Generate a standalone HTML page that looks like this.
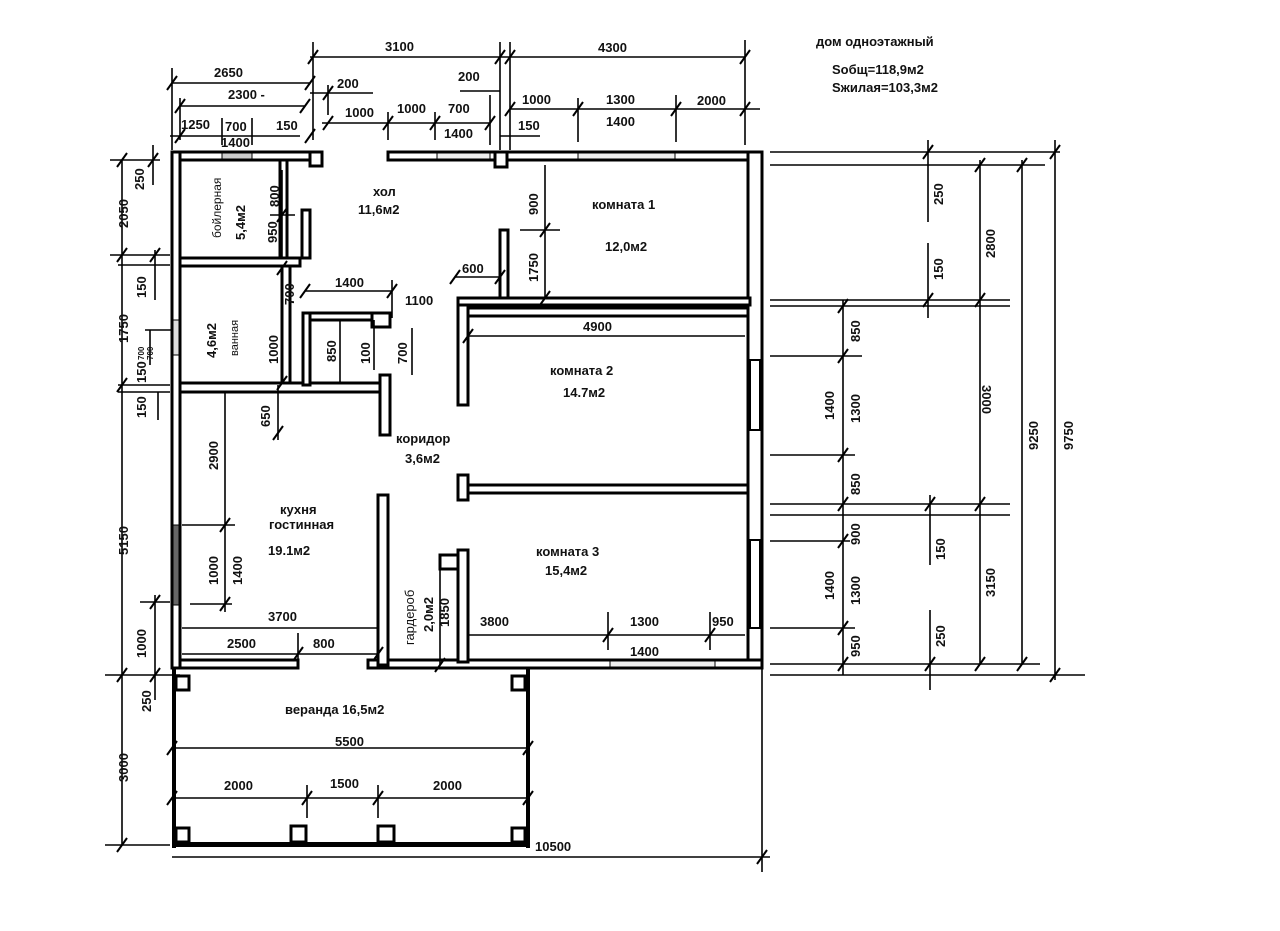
<!DOCTYPE html>
<html><head><meta charset="utf-8"><style>
html,body{margin:0;padding:0;background:#fff;}
svg{display:block}
text{font-family:"Liberation Sans",sans-serif;font-size:13px;font-weight:bold;fill:#111;}
.w{fill:#fff;stroke:#000;stroke-width:3}
.d line,.d polyline{stroke:#000;stroke-width:1.6}
.t{stroke:#000;stroke-width:2}
</style></head><body>
<svg width="1280" height="931" viewBox="0 0 1280 931" xmlns="http://www.w3.org/2000/svg">
<g>
<rect class="w" x="172" y="152" width="150" height="8"/>
<rect class="w" x="310" y="152" width="12" height="14"/>
<rect class="w" x="388" y="152" width="374" height="8"/>
<rect class="w" x="495" y="152" width="12" height="15"/>
<rect class="w" x="172" y="152" width="8" height="516"/>
<rect class="w" x="748" y="152" width="14" height="516"/>
<rect class="w" x="180" y="660" width="118" height="8"/>
<rect class="w" x="368" y="660" width="394" height="8"/>
<rect x="222" y="153" width="30" height="6" fill="#ccc" stroke="#000"/>
<rect x="437" y="153" width="53" height="6" fill="#eee" stroke="#000"/>
<rect x="578" y="153" width="97" height="6" fill="#eee" stroke="#000"/>
<rect x="173" y="320" width="6" height="35" fill="#ddd" stroke="#000"/>
<rect x="173" y="525" width="6" height="80" fill="#666" stroke="#000"/>
<rect x="750" y="360" width="10" height="70" fill="#fff" stroke="#000" stroke-width="2"/>
<rect x="750" y="540" width="10" height="88" fill="#fff" stroke="#000" stroke-width="2"/>
<rect x="610" y="661" width="105" height="6" fill="#eee" stroke="#000"/>
<rect class="w" x="280" y="160" width="7" height="98"/>
<rect class="w" x="180" y="258" width="120" height="8"/>
<rect class="w" x="302" y="210" width="8" height="48"/>
<rect class="w" x="282" y="266" width="8" height="118"/>
<rect class="w" x="180" y="383" width="210" height="9"/>
<rect class="w" x="303" y="313" width="85" height="7"/>
<rect class="w" x="303" y="313" width="7" height="72"/>
<rect class="w" x="372" y="313" width="18" height="14"/>
<rect class="w" x="380" y="375" width="10" height="60"/>
<rect class="w" x="500" y="230" width="8" height="70"/>
<rect class="w" x="458" y="298" width="292" height="7"/>
<rect class="w" x="458" y="305" width="10" height="100"/>
<rect class="w" x="468" y="308" width="280" height="8"/>
<rect class="w" x="458" y="475" width="10" height="25"/>
<rect class="w" x="468" y="485" width="280" height="8"/>
<rect class="w" x="378" y="495" width="10" height="170"/>
<rect class="w" x="440" y="555" width="18" height="14"/>
<rect class="w" x="458" y="550" width="10" height="112"/>
<rect x="172" y="668" width="4" height="180" fill="#000"/>
<rect x="172" y="842" width="358" height="5" fill="#000"/>
<rect x="526" y="668" width="4" height="180" fill="#000"/>
<rect class="w" x="176" y="676" width="13" height="14"/>
<rect class="w" x="512" y="676" width="13" height="14"/>
<rect class="w" x="176" y="828" width="13" height="14"/>
<rect class="w" x="291" y="826" width="15" height="16"/>
<rect class="w" x="378" y="826" width="16" height="16"/>
<rect class="w" x="512" y="828" width="13" height="14"/>
</g>
<g class="d">
<line x1="310" y1="57" x2="745" y2="57"/>
<line x1="313" y1="42" x2="313" y2="140"/><line x1="500" y1="42" x2="500" y2="150"/><line x1="510" y1="42" x2="510" y2="150"/><line x1="745" y1="40" x2="745" y2="145"/>
<line x1="172" y1="83" x2="310" y2="83"/><line x1="172" y1="68" x2="172" y2="150"/>
<line x1="180" y1="106" x2="305" y2="106"/><line x1="180" y1="98" x2="180" y2="140"/>
<line x1="310" y1="93" x2="373" y2="93"/><line x1="328" y1="85" x2="328" y2="115"/>
<line x1="170" y1="136" x2="300" y2="136"/><line x1="222" y1="118" x2="222" y2="145"/><line x1="252" y1="118" x2="252" y2="145"/>
<line x1="322" y1="123" x2="490" y2="123"/><line x1="388" y1="112" x2="388" y2="140"/><line x1="435" y1="112" x2="435" y2="140"/><line x1="490" y1="95" x2="490" y2="145"/>
<line x1="460" y1="91" x2="500" y2="91"/>
<line x1="510" y1="109" x2="760" y2="109"/><line x1="578" y1="98" x2="578" y2="142"/><line x1="676" y1="95" x2="676" y2="142"/>
<line x1="500" y1="136" x2="540" y2="136"/>
<line x1="122" y1="160" x2="122" y2="845"/>
<line x1="153" y1="145" x2="153" y2="185"/>
<line x1="110" y1="160" x2="160" y2="160"/><line x1="110" y1="255" x2="170" y2="255"/><line x1="118" y1="265" x2="170" y2="265"/>
<line x1="155" y1="250" x2="155" y2="300"/>
<line x1="150" y1="330" x2="150" y2="365"/><line x1="145" y1="330" x2="172" y2="330"/>
<line x1="118" y1="385" x2="170" y2="385"/><line x1="118" y1="392" x2="170" y2="392"/>
<line x1="158" y1="392" x2="158" y2="420"/>
<line x1="155" y1="595" x2="155" y2="700"/><line x1="140" y1="602" x2="170" y2="602"/>
<line x1="105" y1="675" x2="180" y2="675"/><line x1="105" y1="845" x2="170" y2="845"/>
<line x1="770" y1="152" x2="1060" y2="152"/><line x1="770" y1="165" x2="1045" y2="165"/>
<line x1="770" y1="300" x2="1010" y2="300"/><line x1="770" y1="306" x2="1010" y2="306"/>
<line x1="770" y1="356" x2="862" y2="356"/><line x1="770" y1="455" x2="855" y2="455"/>
<line x1="770" y1="504" x2="1010" y2="504"/><line x1="770" y1="515" x2="1010" y2="515"/>
<line x1="770" y1="541" x2="850" y2="541"/><line x1="770" y1="628" x2="855" y2="628"/>
<line x1="770" y1="664" x2="1040" y2="664"/><line x1="770" y1="675" x2="1085" y2="675"/>
<line x1="843" y1="300" x2="843" y2="675"/>
<line x1="928" y1="140" x2="928" y2="222"/><line x1="928" y1="243" x2="928" y2="318"/>
<line x1="930" y1="495" x2="930" y2="565"/><line x1="930" y1="610" x2="930" y2="690"/>
<line x1="980" y1="160" x2="980" y2="665"/>
<line x1="1022" y1="160" x2="1022" y2="665"/>
<line x1="1055" y1="140" x2="1055" y2="680"/>
<line x1="172" y1="857" x2="770" y2="857"/><line x1="762" y1="668" x2="762" y2="872"/>
<line x1="172" y1="748" x2="528" y2="748"/>
<line x1="172" y1="798" x2="528" y2="798"/><line x1="307" y1="785" x2="307" y2="818"/><line x1="378" y1="785" x2="378" y2="818"/>
<line x1="282" y1="170" x2="282" y2="258"/><line x1="270" y1="215" x2="295" y2="215"/>
<line x1="305" y1="291" x2="392" y2="291"/><line x1="392" y1="280" x2="392" y2="318"/>
<line x1="455" y1="277" x2="500" y2="277"/>
<line x1="282" y1="268" x2="282" y2="383"/>
<line x1="340" y1="320" x2="340" y2="383"/><line x1="374" y1="320" x2="374" y2="370"/><line x1="412" y1="328" x2="412" y2="375"/>
<line x1="278" y1="385" x2="278" y2="440"/>
<line x1="225" y1="392" x2="225" y2="612"/><line x1="182" y1="525" x2="235" y2="525"/><line x1="190" y1="604" x2="232" y2="604"/>
<line x1="182" y1="628" x2="378" y2="628"/><line x1="182" y1="654" x2="378" y2="654"/><line x1="298" y1="633" x2="298" y2="660"/>
<line x1="440" y1="568" x2="440" y2="665"/>
<line x1="468" y1="336" x2="745" y2="336"/>
<line x1="545" y1="165" x2="545" y2="298"/><line x1="520" y1="230" x2="560" y2="230"/>
<line x1="468" y1="635" x2="745" y2="635"/><line x1="608" y1="612" x2="608" y2="650"/><line x1="710" y1="612" x2="710" y2="650"/>
</g>
<g class="t">
<line x1="308" y1="64" x2="318" y2="50"/><line x1="495" y1="64" x2="505" y2="50"/><line x1="505" y1="64" x2="515" y2="50"/><line x1="740" y1="64" x2="750" y2="50"/>
<line x1="167" y1="90" x2="177" y2="76"/><line x1="305" y1="90" x2="315" y2="76"/>
<line x1="175" y1="113" x2="185" y2="99"/><line x1="300" y1="113" x2="310" y2="99"/>
<line x1="323" y1="100" x2="333" y2="86"/>
<line x1="175" y1="143" x2="185" y2="129"/><line x1="305" y1="143" x2="315" y2="129"/>
<line x1="323" y1="130" x2="333" y2="116"/><line x1="383" y1="130" x2="393" y2="116"/><line x1="430" y1="130" x2="440" y2="116"/><line x1="485" y1="130" x2="495" y2="116"/>
<line x1="505" y1="116" x2="515" y2="102"/><line x1="573" y1="116" x2="583" y2="102"/><line x1="671" y1="116" x2="681" y2="102"/><line x1="740" y1="116" x2="750" y2="102"/>
<line x1="117" y1="167" x2="127" y2="153"/><line x1="117" y1="262" x2="127" y2="248"/><line x1="117" y1="392" x2="127" y2="378"/><line x1="117" y1="682" x2="127" y2="668"/><line x1="117" y1="852" x2="127" y2="838"/>
<line x1="148" y1="167" x2="158" y2="153"/><line x1="150" y1="262" x2="160" y2="248"/>
<line x1="150" y1="609" x2="160" y2="595"/><line x1="150" y1="682" x2="160" y2="668"/>
<line x1="923" y1="159" x2="933" y2="145"/><line x1="923" y1="307" x2="933" y2="293"/><line x1="925" y1="511" x2="935" y2="497"/><line x1="925" y1="671" x2="935" y2="657"/>
<line x1="975" y1="172" x2="985" y2="158"/><line x1="975" y1="307" x2="985" y2="293"/><line x1="975" y1="511" x2="985" y2="497"/><line x1="975" y1="671" x2="985" y2="657"/>
<line x1="1017" y1="172" x2="1027" y2="158"/><line x1="1017" y1="671" x2="1027" y2="657"/>
<line x1="1050" y1="159" x2="1060" y2="145"/><line x1="1050" y1="682" x2="1060" y2="668"/>
<line x1="838" y1="313" x2="848" y2="299"/><line x1="838" y1="363" x2="848" y2="349"/><line x1="838" y1="462" x2="848" y2="448"/><line x1="838" y1="511" x2="848" y2="497"/><line x1="838" y1="548" x2="848" y2="534"/><line x1="838" y1="635" x2="848" y2="621"/><line x1="838" y1="671" x2="848" y2="657"/>
<line x1="757" y1="864" x2="767" y2="850"/>
<line x1="167" y1="755" x2="177" y2="741"/><line x1="523" y1="755" x2="533" y2="741"/>
<line x1="167" y1="805" x2="177" y2="791"/><line x1="302" y1="805" x2="312" y2="791"/><line x1="373" y1="805" x2="383" y2="791"/><line x1="523" y1="805" x2="533" y2="791"/>
<line x1="277" y1="222" x2="287" y2="208"/><line x1="300" y1="298" x2="310" y2="284"/><line x1="387" y1="298" x2="397" y2="284"/>
<line x1="450" y1="284" x2="460" y2="270"/><line x1="495" y1="284" x2="505" y2="270"/>
<line x1="277" y1="275" x2="287" y2="261"/><line x1="277" y1="390" x2="287" y2="376"/>
<line x1="273" y1="440" x2="283" y2="426"/><line x1="220" y1="532" x2="230" y2="518"/><line x1="220" y1="611" x2="230" y2="597"/>
<line x1="293" y1="661" x2="303" y2="647"/><line x1="373" y1="661" x2="383" y2="647"/>
<line x1="435" y1="672" x2="445" y2="658"/>
<line x1="463" y1="343" x2="473" y2="329"/><line x1="540" y1="237" x2="550" y2="223"/><line x1="540" y1="305" x2="550" y2="291"/>
<line x1="603" y1="642" x2="613" y2="628"/><line x1="705" y1="642" x2="715" y2="628"/>
</g>
<text x="385" y="51">3100</text><text x="598" y="52">4300</text>
<text x="214" y="77">2650</text><text x="228" y="99">2300 -</text>
<text x="337" y="88">200</text><text x="458" y="81">200</text>
<text x="181" y="129">1250</text><text x="225" y="131">700</text><text x="276" y="130">150</text><text x="221" y="147">1400</text>
<text x="345" y="117">1000</text><text x="397" y="113">1000</text><text x="448" y="113">700</text><text x="444" y="138">1400</text>
<text x="522" y="104">1000</text><text x="606" y="104">1300</text><text x="697" y="105">2000</text><text x="606" y="126">1400</text><text x="518" y="130">150</text>
<text x="816" y="46">дом одноэтажный</text>
<text x="832" y="74">Sобщ=118,9м2</text><text x="832" y="92">Sжилая=103,3м2</text>
<text x="373" y="196">хол</text><text x="358" y="214">11,6м2</text>
<text x="335" y="287">1400</text><text x="405" y="305">1100</text><text x="462" y="273">600</text>
<text x="592" y="209">комната 1</text><text x="605" y="251">12,0м2</text>
<text x="583" y="331">4900</text>
<text x="550" y="375">комната 2</text><text x="563" y="397">14.7м2</text>
<text x="396" y="443">коридор</text><text x="405" y="463">3,6м2</text>
<text x="280" y="514">кухня</text><text x="269" y="529">гостинная</text><text x="268" y="555">19.1м2</text>
<text x="536" y="556">комната 3</text><text x="545" y="575">15,4м2</text>
<text x="268" y="621">3700</text><text x="227" y="648">2500</text><text x="313" y="648">800</text>
<text x="480" y="626">3800</text><text x="630" y="626">1300</text><text x="712" y="626">950</text><text x="630" y="656">1400</text>
<text x="285" y="714">веранда  16,5м2</text>
<text x="335" y="746">5500</text>
<text x="224" y="790">2000</text><text x="330" y="788">1500</text><text x="433" y="790">2000</text>
<text x="535" y="851">10500</text>
<g>
<text transform="translate(128,228) rotate(-90)">2050</text>
<text transform="translate(144,190) rotate(-90)">250</text>
<text transform="translate(146,298) rotate(-90)">150</text>
<text transform="translate(128,343) rotate(-90)">1750</text>
<text transform="translate(144,360) rotate(-90)" style="font-size:8px">700</text>
<text transform="translate(153,360) rotate(-90)" style="font-size:8px">700</text>
<text transform="translate(146,383) rotate(-90)">150</text>
<text transform="translate(146,418) rotate(-90)">150</text>
<text transform="translate(128,555) rotate(-90)">5150</text>
<text transform="translate(146,658) rotate(-90)">1000</text>
<text transform="translate(151,712) rotate(-90)">250</text>
<text transform="translate(128,782) rotate(-90)">3000</text>
<text transform="translate(221,238) rotate(-90)" style="font-weight:normal;font-size:12px">бойлерная</text>
<text transform="translate(245,240) rotate(-90)">5,4м2</text>
<text transform="translate(279,207) rotate(-90)">800</text>
<text transform="translate(277,243) rotate(-90)">950</text>
<text transform="translate(294,305) rotate(-90)">700</text>
<text transform="translate(278,364) rotate(-90)">1000</text>
<text transform="translate(216,358) rotate(-90)">4,6м2</text>
<text transform="translate(238,356) rotate(-90)" style="font-weight:normal;font-size:11px">ванная</text>
<text transform="translate(336,362) rotate(-90)">850</text>
<text transform="translate(370,364) rotate(-90)">100</text>
<text transform="translate(407,364) rotate(-90)">700</text>
<text transform="translate(270,427) rotate(-90)">650</text>
<text transform="translate(218,470) rotate(-90)">2900</text>
<text transform="translate(218,585) rotate(-90)">1000</text>
<text transform="translate(242,585) rotate(-90)">1400</text>
<text transform="translate(414,645) rotate(-90)" style="font-weight:normal">гардероб</text>
<text transform="translate(433,632) rotate(-90)">2,0м2</text>
<text transform="translate(449,627) rotate(-90)">1850</text>
<text transform="translate(538,215) rotate(-90)">900</text>
<text transform="translate(538,282) rotate(-90)">1750</text>
<text transform="translate(860,342) rotate(-90)">850</text>
<text transform="translate(860,423) rotate(-90)">1300</text>
<text transform="translate(860,495) rotate(-90)">850</text>
<text transform="translate(860,545) rotate(-90)">900</text>
<text transform="translate(860,605) rotate(-90)">1300</text>
<text transform="translate(860,657) rotate(-90)">950</text>
<text transform="translate(834,420) rotate(-90)">1400</text>
<text transform="translate(834,600) rotate(-90)">1400</text>
<text transform="translate(943,205) rotate(-90)">250</text>
<text transform="translate(943,280) rotate(-90)">150</text>
<text transform="translate(945,560) rotate(-90)">150</text>
<text transform="translate(945,647) rotate(-90)">250</text>
<text transform="translate(995,258) rotate(-90)">2800</text>
<text transform="translate(982,385) rotate(90)">3000</text>
<text transform="translate(995,597) rotate(-90)">3150</text>
<text transform="translate(1038,450) rotate(-90)">9250</text>
<text transform="translate(1073,450) rotate(-90)">9750</text>
</g>
</svg>
</body></html>
